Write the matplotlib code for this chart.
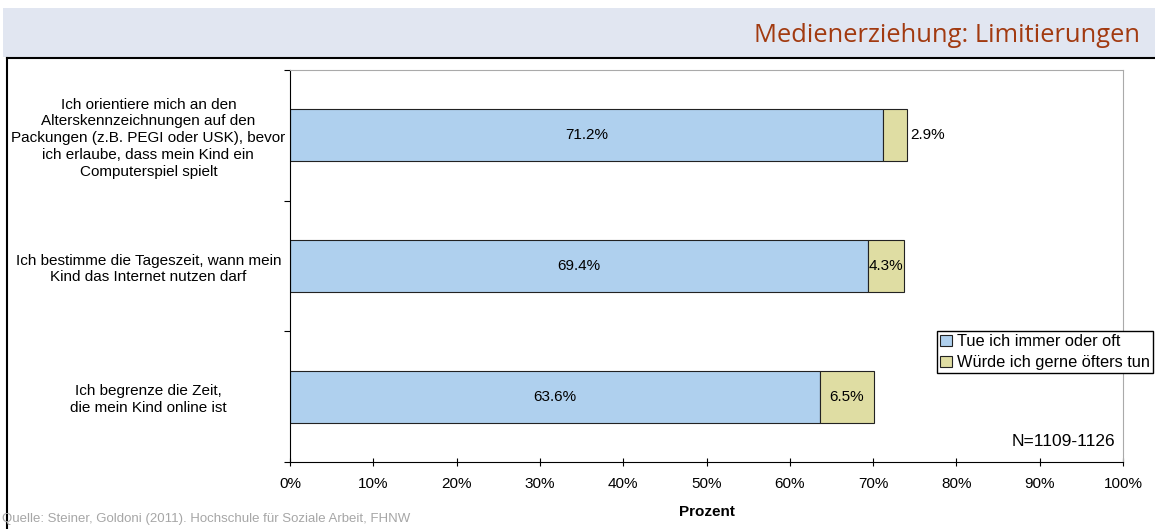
import matplotlib
matplotlib.use("Agg")
import matplotlib.pyplot as plt
from matplotlib.patches import Rectangle
from matplotlib.lines import Line2D

plt.rcParams['font.family'] = ['Liberation Sans', 'DejaVu Sans']

# Data
categories = [
    "Ich orientiere mich an den\nAlterskennzeichnungen auf den\nPackungen (z.B. PEGI oder USK), bevor\nich erlaube, dass mein Kind ein\nComputerspiel spielt",
    "Ich bestimme die Tageszeit, wann mein\nKind das Internet nutzen darf",
    "Ich begrenze die Zeit,\ndie mein Kind online ist",
]
often = [71.2, 69.4, 63.6]
wish = [2.9, 4.3, 6.5]
series_labels = ["Tue ich immer oder oft", "Würde ich gerne öfters tun"]
xticks = list(range(0, 101, 10))

blue = "#AFD0EE"
yellow = "#DFDDA3"
fs = 11

W, H = 1155, 529
fig = plt.figure(figsize=(W / 100, H / 100), dpi=100)

# header band
fig.patches.append(Rectangle((3 / W, 1 - 57 / H), 1 - 3 / W, 49 / H,
                             transform=fig.transFigure, facecolor="#E1E6F1",
                             edgecolor="none", zorder=0))
fig.lines.append(Line2D([7 / W, 1], [1 - 58 / H, 1 - 58 / H], transform=fig.transFigure,
                        color="black", lw=1.5))
fig.lines.append(Line2D([7 / W, 7 / W], [0, 1 - 58 / H], transform=fig.transFigure,
                        color="black", lw=1.5))
fig.text(1140 / W, 1 - 35 / H, "Medienerziehung: Limitierungen",
         ha="right", va="center", fontsize=18.4, color="#A23A10",
         family=["Open Sans", "DejaVu Sans"])

ax = fig.add_axes([290 / W, 1 - 462 / H, (1123 - 290) / W, (462 - 70) / H])

y = [0, 1, 2]
ax.barh(y, often, height=0.4, color=blue, edgecolor="#222222", linewidth=0.8,
        label=series_labels[0])
ax.barh(y, wish, left=often, height=0.4, color=yellow, edgecolor="#222222",
        linewidth=0.8, label=series_labels[1])

for i in range(3):
    ax.text(often[i] / 2, y[i], f"{often[i]:.1f}%", ha="center", va="center", fontsize=fs)
    if wish[i] >= 4:
        ax.text(often[i] + wish[i] / 2, y[i], f"{wish[i]:.1f}%", ha="center",
                va="center", fontsize=fs)
    else:
        ax.text(often[i] + wish[i] + 0.3, y[i], f"{wish[i]:.1f}%", ha="left",
                va="center", fontsize=fs)

ax.set_xlim(0, 100)
ax.set_ylim(2.5, -0.5)
ax.set_xticks(xticks)
ax.set_xticklabels([f"{t}%" for t in xticks], fontsize=fs)
ax.tick_params(axis="x", direction="inout", length=6, pad=8)
ax.set_yticks([-0.5, 0.5, 1.5, 2.5])
ax.set_yticklabels([])
ax.tick_params(axis="y", direction="out", length=4)
ax.set_yticks(y, minor=True)
ax.set_yticklabels(categories, minor=True, fontsize=fs, ha="center",
                   multialignment="center", linespacing=1.25)
ax.tick_params(axis="y", which="minor", length=0, pad=102)

ax.spines["left"].set_color("black")
ax.spines["bottom"].set_color("black")
ax.spines["top"].set_color("#AAAAAA")
ax.spines["right"].set_color("#AAAAAA")

ax.set_xlabel("Prozent", fontsize=fs, fontweight="bold", labelpad=10)

ax.legend(loc="upper left", bbox_to_anchor=((937 - 290) / (1123 - 290), (462 - 331) / (462 - 70)),
          fontsize=11.8, frameon=True, fancybox=False, edgecolor="black",
          handlelength=0.7, handleheight=0.7, handletextpad=0.3, borderpad=0.2,
          labelspacing=0.35, borderaxespad=0, framealpha=1)

ax.text(1115 / W, 1 - 441 / H, "N=1109-1126", transform=fig.transFigure,
        ha="right", va="center", fontsize=12.5)
fig.text(2 / W, 1 - 519 / H, "Quelle: Steiner, Goldoni (2011). Hochschule für Soziale Arbeit, FHNW",
         ha="left", va="center", fontsize=9.5, color="#A6A6A6")

fig.savefig("out.png", dpi=100)
